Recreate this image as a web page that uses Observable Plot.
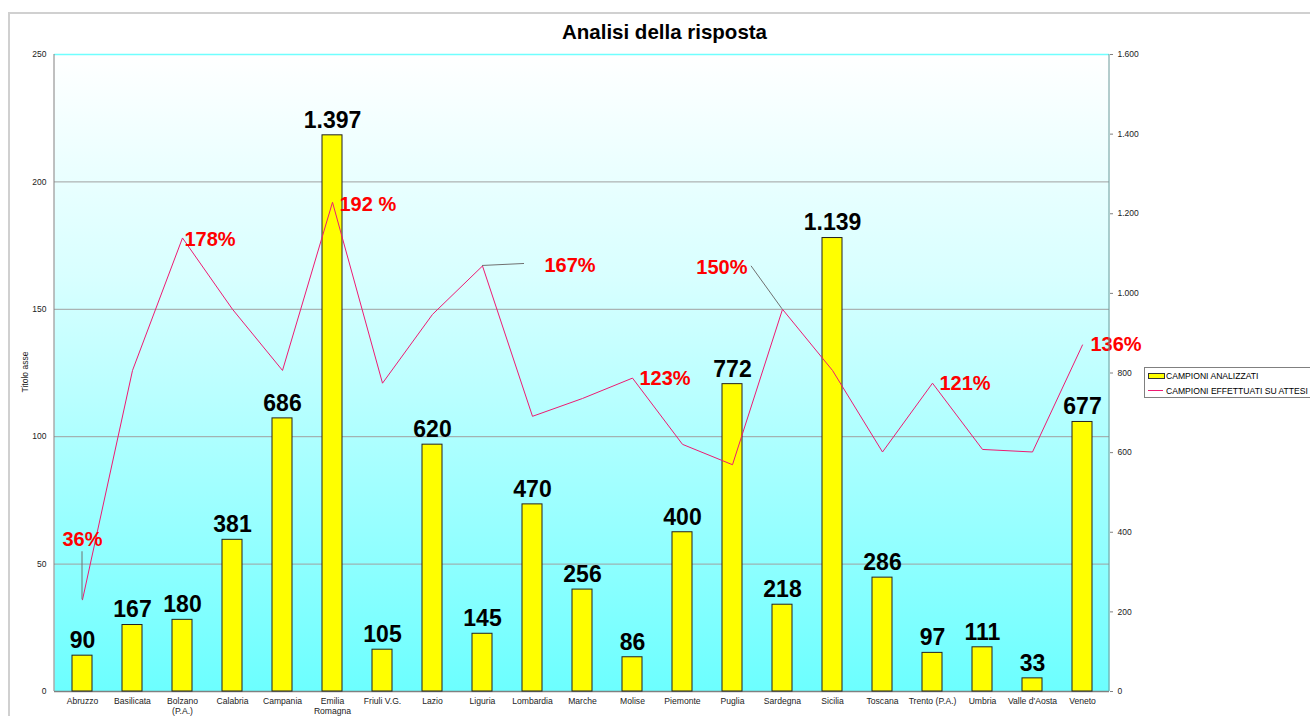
<!DOCTYPE html>
<html>
<head>
<meta charset="utf-8">
<script src="https://cdn.jsdelivr.net/npm/d3@7"></script>
<script src="https://cdn.jsdelivr.net/npm/@observablehq/plot@0.6"></script>
<style>
  body { margin: 0; background: #fff; font-family: "Liberation Sans", Arial, sans-serif; }
  #wrap { position: relative; width: 1310px; height: 716px; overflow: hidden; background: #fff; }
  #border { position: absolute; left: 8px; top: 12px; width: 1400px; height: 800px; border-top: 2px solid #d0d0d0; border-left: 2px solid #d0d0d0; }
  #chart { position: absolute; left: 0; top: 0; }
  #title { position: absolute; left: 0; width: 1329px; top: 22px; line-height: 20px; text-align: center; font-weight: bold; font-size: 20.5px; color: #000; }
  #ytitle { position: absolute; left: 25px; top: 372px; transform: translate(-50%, -50%) rotate(-90deg); font-size: 8.5px; white-space: nowrap; color: #222; }
  #legend { position: absolute; left: 1144px; top: 367px; width: 180px; height: 29px; border: 1px solid #808080; background: #fff; font-size: 8.6px; color: #000; }
  .sw { position: absolute; left: 3px; width: 15px; }
  .lt { position: absolute; left: 21px; line-height: 10px; white-space: nowrap; }
</style>
</head>
<body>
<div id="wrap">
  <div id="border"></div>
  <div id="chart"></div>
  <div id="title"></div>
  <div id="ytitle"></div>
  <div id="legend"></div>
</div>
<script>
// ---- data ----
const categories = ["Abruzzo","Basilicata","Bolzano (P.A.)","Calabria","Campania","Emilia Romagna","Friuli V.G.","Lazio","Liguria","Lombardia","Marche","Molise","Piemonte","Puglia","Sardegna","Sicilia","Toscana","Trento (P.A.)","Umbria","Valle d'Aosta","Veneto"];
const categoryLabels = ["Abruzzo","Basilicata","Bolzano\n(P.A.)","Calabria","Campania","Emilia\nRomagna","Friuli V.G.","Lazio","Liguria","Lombardia","Marche","Molise","Piemonte","Puglia","Sardegna","Sicilia","Toscana","Trento (P.A.)","Umbria","Valle d'Aosta","Veneto"];
const campioniAnalizzati = [90,167,180,381,686,1397,105,620,145,470,256,86,400,772,218,1139,286,97,111,33,677];
const campioniSuAttesi = [36,126,178,150,126,192,121,148,167,108,115,123,97,89,150,126,94,121,95,94,136];
const pctLabelCats = ["Abruzzo","Bolzano (P.A.)","Emilia Romagna","Liguria","Molise","Sardegna","Trento (P.A.)","Veneto"];
const pctLabelTexts = ["36%","178%","192 %","167%","123%","150%","121%","136%"];
const leftTicks = [0,50,100,150,200,250];
const rightTicks = [0,200,400,600,800,1000,1200,1400,1600];
const seriesNames = ["CAMPIONI ANALIZZATI","CAMPIONI EFFETTUATI SU ATTESI"];
const titleText = "Analisi della risposta";
const leftAxisTitle = "Titolo asse";

// ---- build ----
const RMAX = 1600, LMAX = 250, K = LMAX / RMAX;
const loc = d3.formatLocale({decimal: ",", thousands: ".", grouping: [3], currency: ["", ""]});
const fmt = loc.format(",d");
const rows = categories.map((c, i) => ({cat: c, n: campioniAnalizzati[i], pct: campioniSuAttesi[i]}));
const labelOf = new Map(categories.map((c, i) => [c, categoryLabels[i]]));
const font = '"Liberation Sans", Arial, sans-serif';

const pctLabel = (i, dx, dy, anchor = "start") =>
  Plot.text(rows.filter(d => d.cat === pctLabelCats[i]), {
    x: "cat", y: "pct", text: () => pctLabelTexts[i], dx, dy,
    textAnchor: anchor, lineAnchor: "middle",
    fill: "#ff0000", fontSize: 20, fontWeight: "bold"
  });

const chart = Plot.plot({
  width: 1310, height: 716,
  marginLeft: 54, marginRight: 201, marginTop: 54, marginBottom: 25,
  style: {fontFamily: font, fontSize: "8.5px", background: "transparent", color: "#222", overflow: "visible"},
  x: {domain: categories, paddingInner: 0.6, paddingOuter: 0.3, label: null},
  y: {domain: [0, LMAX], label: null},
  marks: [
    Plot.frame({fill: "url(#bgGrad)", stroke: "none"}),
    Plot.ruleY(leftTicks.filter(t => t > 0 && t < LMAX), {stroke: "#a0a0a0", strokeWidth: 1}),
    Plot.ruleY([LMAX], {stroke: "#70ffff", strokeWidth: 1.5}),
    Plot.ruleY([0], {stroke: "#808080", strokeWidth: 1.5}),
    Plot.barY(rows, {x: "cat", y: d => d.n * K, fill: "#ffff00", stroke: "#222222", strokeWidth: 1}),
    Plot.line(rows, {x: "cat", y: "pct", stroke: "#ee1a72", strokeWidth: 1}),
    Plot.text(rows, {x: "cat", y: d => d.n * K, text: d => fmt(d.n), dy: -15, lineAnchor: "middle",
      fontSize: 23, fontWeight: "bold", fill: "#000"}),
    pctLabel(0, 0, -60, "middle"),
    pctLabel(1, 2, 2),
    pctLabel(2, 7, 2),
    pctLabel(3, 62, 0),
    pctLabel(4, 7, 0),
    pctLabel(5, -35, -42, "end"),
    pctLabel(6, 7, 0),
    pctLabel(7, 8, 0),
    Plot.axisY({anchor: "left", ticks: leftTicks, tickSize: 0, tickPadding: 8, label: null, fontSize: 8.5, fill: "#222"}),
    Plot.axisY({anchor: "right", ticks: rightTicks.map(v => v * K), tickFormat: d => fmt(Math.round(d / K)),
      tickSize: 3, tickPadding: 5, label: null, fontSize: 8.5, fill: "#222", stroke: "#808080"}),
    Plot.axisX({tickSize: 0, tickPadding: 5, tickFormat: c => labelOf.get(c), label: null, fontSize: 8.6, lineHeight: 1.2, fill: "#222"})
  ]
});

document.getElementById("chart").appendChild(chart);

const svg = d3.select(chart);
svg.insert("defs", ":first-child").html(
  '<linearGradient id="bgGrad" x1="0" y1="0" x2="0" y2="1">' +
  '<stop offset="0" stop-color="#ffffff"/><stop offset="0.35" stop-color="#d8ffff"/><stop offset="1" stop-color="#6cffff"/></linearGradient>'
);

// axis lines and leader lines, from the plot's own scales
const sx = chart.scale("x"), sy = chart.scale("y");
const cx = c => sx.apply(c) + sx.bandwidth / 2;
const yTop = sy.apply(LMAX), y0 = sy.apply(0);
const [xl, xr] = sx.range;
const g = svg.append("g").attr("stroke-width", 1).attr("fill", "none");
g.append("line").attr("x1", xl).attr("x2", xl).attr("y1", yTop).attr("y2", y0).attr("stroke", "#808080");
g.append("line").attr("x1", xr).attr("x2", xr).attr("y1", yTop).attr("y2", y0).attr("stroke", "#6a9a9a");
const pt = c => { const r = rows.find(d => d.cat === c); return [cx(c), sy.apply(r.pct)]; };
const leaders = [
  [pt("Abruzzo"), [0, -48]],
  [pt("Liguria"), [42, -2]],
  [pt("Sardegna"), [-31, -43]]
];
for (const [[px, py], [ox, oy]] of leaders) {
  g.append("line").attr("x1", px).attr("y1", py).attr("x2", px + ox).attr("y2", py + oy).attr("stroke", "#707070");
}

// title, axis title, legend
document.getElementById("title").textContent = titleText;
document.getElementById("ytitle").textContent = leftAxisTitle;
const lg = document.getElementById("legend");
lg.innerHTML =
  '<div class="sw" style="top:5px;height:4px;background:#ffff00;border:1px solid #333"></div>' +
  '<div class="lt" style="top:3px"></div>' +
  '<div class="sw" style="top:22px;height:0;border-top:1px solid #ee1a72"></div>' +
  '<div class="lt" style="top:18px"></div>';
lg.querySelectorAll(".lt")[0].textContent = seriesNames[0];
lg.querySelectorAll(".lt")[1].textContent = seriesNames[1];
</script>
</body>
</html>
